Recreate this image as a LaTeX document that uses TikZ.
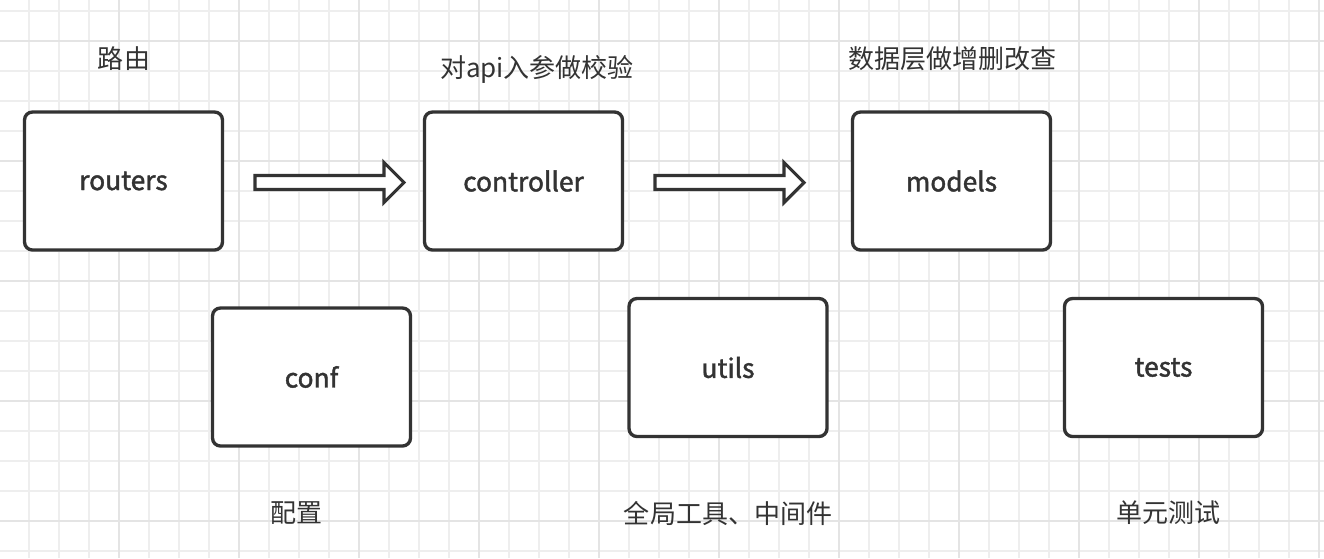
\documentclass[tikz,border=0pt]{standalone}
\usepackage{fontspec}
\setmainfont{Noto Sans CJK SC}
\newfontfamily\boxfont[FakeBold=1.6]{Noto Sans CJK SC}
\usetikzlibrary{positioning}

\definecolor{ink}{HTML}{333333}
\definecolor{gridminor}{HTML}{EEEEEE}
\definecolor{gridmajor}{HTML}{E4E4E4}

\tikzset{
  >=stealth,
  module/.style={draw=ink, line width=1.9pt, rounded corners=4.5pt, fill=white,
    minimum width=3.96cm, minimum height=2.76cm, inner sep=0pt, text=ink,
    font=\boxfont\fontsize{15}{18}\selectfont},
  note/.style={text=ink, inner sep=0pt, font=\fontsize{14.8}{18}\selectfont},
  blockarrow/.style={draw=ink, line width=1.8pt, fill=white, line join=miter},
}

\begin{document}
\begin{tikzpicture}[x=0.02cm, y=-0.02cm]
\useasboundingbox (0,0) rectangle (1324,558);
\fill[white] (0,0) rectangle (1324,558);

% grid
\foreach \gx in {29,59,...,1319} \draw[gridminor, line width=0.6pt] (\gx,0) -- (\gx,558);
\foreach \gy in {11,41,...,551} \draw[gridminor, line width=0.6pt] (0,\gy) -- (1324,\gy);
\foreach \gx in {119,239,...,1319} \draw[gridmajor, line width=0.6pt] (\gx,0) -- (\gx,558);
\foreach \gy in {41,161,...,521} \draw[gridmajor, line width=0.6pt] (0,\gy) -- (1324,\gy);

% modules
\node[module] (routers) at (123.5,181) {routers};
\node[module] (controller) at (523.5,181) {controller};
\node[module] (models) at (951.5,181) {models};
\node[module] (conf) at (311.5,377) {conf};
\node[module] (utils) at (728,367.5) {utils};
\node[module] (tests) at (1163.5,367.5) {tests};

% notes
\node[note] (routersnote) at (124,59) {路由};
\node[note] (controllernote) at (537,69) {对api入参做校验};
\node[note] (modelsnote) at (952,59) {数据层做增删改查};
\node[note] (confnote) at (296,513) {配置};
\node[note] (utilsnote) at (728,513) {全局工具、中间件};
\node[note] (testsnote) at (1168,513) {单元测试};

% block arrows
\coordinate (flowa) at (255,182.5);
\coordinate (flowb) at (655,182.5);
\draw[blockarrow] (flowa) ++(0,-7) -- ++(129,0) -- ++(0,-13) -- ++(20,20) -- ++(-20,20) -- ++(0,-13) -- ++(-129,0) -- cycle;
\draw[blockarrow] (flowb) ++(0,-7) -- ++(129,0) -- ++(0,-13) -- ++(20,20) -- ++(-20,20) -- ++(0,-13) -- ++(-129,0) -- cycle;

\end{tikzpicture}
\end{document}
